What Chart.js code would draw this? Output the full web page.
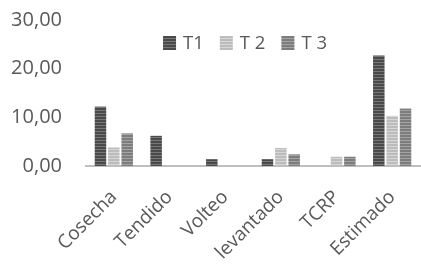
<!DOCTYPE html>
<html><head><meta charset="utf-8">
<script src="https://cdn.jsdelivr.net/npm/chart.js@4/dist/chart.umd.min.js"></script>
<style>html,body{margin:0;padding:0;background:#fff}#wrap{width:421px;height:267px}</style>
</head><body><div id="wrap"><canvas id="c" width="421" height="267"></canvas></div>
<script>
const categories = ["Cosecha","Tendido","Volteo","levantado","TCRP","Estimado"];
const seriesNames = ["T1","T 2","T 3"];
const t1 = [12.2, 6.2, 1.4, 1.4, 0, 22.7];
const t2 = [3.8, 0, 0, 3.7, 1.9, 10.3];
const t3 = [6.7, 0, 0, 2.4, 1.9, 11.8];
const yTicks = [0, 10, 20, 30];

function stripe(dark, light){
  const c = document.createElement('canvas'); c.width = 4; c.height = 3;
  const x = c.getContext('2d');
  x.fillStyle = dark; x.fillRect(0,0,4,3);
  x.fillStyle = light; x.fillRect(0,2,4,1);
  return x.createPattern(c,'repeat');
}
const ctx = document.getElementById('c').getContext('2d');
const p1 = stripe('#4a4a4a','#777777');
const p2 = stripe('#bcbcbc','#d6d6d6');
const p3 = stripe('#7d7d7d','#a3a3a3');

const innerLegend = {
  id: 'innerLegend',
  afterDraw(chart) {
    const c = chart.ctx, a = chart.chartArea;
    c.save();
    c.font = '18.5px "Open Sans"';
    const box = 13, gap = 7, itemGap = 16;
    const items = chart.data.datasets.map(d => ({label: d.label, color: d.backgroundColor, w: box + gap + c.measureText(d.label).width}));
    const total = items.reduce((s, it) => s + it.w, 0) + itemGap * (items.length - 1);
    let x = (a.left + a.right) / 2 - 8 - total / 2;
    const cy = a.top + 23;
    c.textBaseline = 'middle';
    items.forEach(it => {
      c.fillStyle = it.color;
      c.fillRect(x, cy - 7, box, 14);
      c.fillStyle = '#595959';
      c.fillText(it.label, x + box + gap, cy + 1);
      x += it.w + itemGap;
    });
    c.restore();
  }
};

new Chart(ctx, {
  type: 'bar',
  data: {
    labels: categories,
    datasets: [
      {label: seriesNames[0], data: t1, backgroundColor: p1},
      {label: seriesNames[1], data: t2, backgroundColor: p2},
      {label: seriesNames[2], data: t3, backgroundColor: p3}
    ]
  },
  plugins: [innerLegend],
  options: {
    responsive: false, animation: false, devicePixelRatio: 1,
    layout: {padding: 0},
    datasets: {bar: {categoryPercentage: 0.72, barPercentage: 0.86}},
    plugins: {
      legend: {display: false},
      tooltip: {enabled: false}
    },
    scales: {
      x: {
        grid: {display: false, drawTicks: false},
        border: {color: '#bfbfbf', width: 2},
        ticks: {minRotation: 45, maxRotation: 45, color: '#595959', padding: 20, font: {family: 'Open Sans', size: 19}},
        afterFit: s => { s.height = 101; s.paddingLeft = 0; s.paddingRight = 1; }
      },
      y: {
        min: 0, max: 30,
        afterBuildTicks: s => { s.ticks = yTicks.map(v => ({value: v})); },
        grid: {display: false, drawTicks: false},
        border: {display: false},
        ticks: {color: '#595959', padding: 24, font: {family: 'Open Sans', size: 20},
          callback: v => v.toFixed(2).replace('.', ',')},
        afterFit: s => { s.width = 86; s.paddingTop = 20; s.paddingBottom = 0; }
      }
    }
  }
});
</script></body></html>
